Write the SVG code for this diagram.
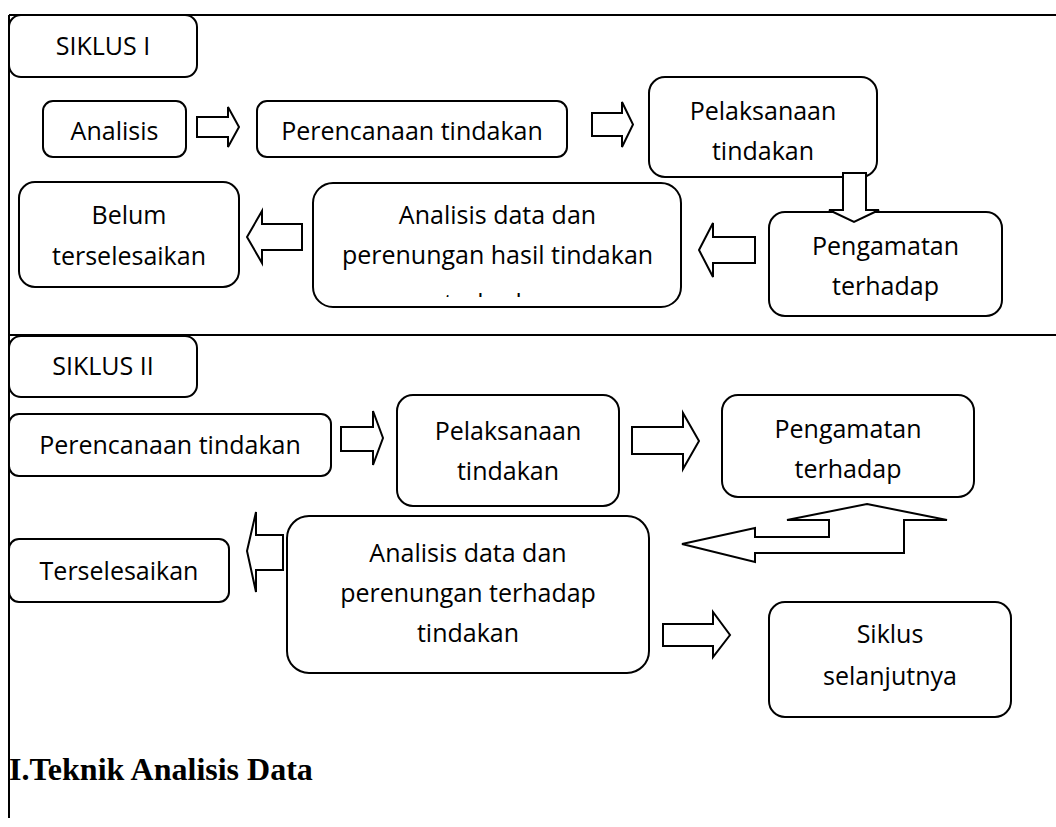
<svg xmlns="http://www.w3.org/2000/svg" width="1056" height="827" viewBox="0 0 1056 827">
<style>
.box{fill:#fff;stroke:#000;stroke-width:2}
.t{font-family:"Open Sans","Liberation Sans",sans-serif;font-size:25px;fill:#000;text-anchor:middle}
.arr{fill:#fff;stroke:#000;stroke-width:2;stroke-linejoin:miter}
.frame{fill:none;stroke:#000;stroke-width:2}
.h{font-family:"Liberation Serif","Times New Roman",serif;font-size:32px;font-weight:bold;fill:#000}
</style>
<defs>
<clipPath id="clipA"><rect x="313" y="183" width="368" height="114"/></clipPath>
</defs>
<rect width="1056" height="827" fill="#fff"/>
<g id="frame">
<path class="frame" d="M9,15 H1056 M9,335 H1056 M9,15 V818"/>
</g>
<g id="siklus1"><rect class="box" x="9" y="15" width="188" height="62" rx="12"/><text class="t" x="103" y="55">SIKLUS I</text></g>
<g id="analisis"><rect class="box" x="43" y="101" width="143" height="56" rx="10"/><text class="t" x="114.5" y="140">Analisis</text></g>
<g id="perencanaan1"><rect class="box" x="257" y="101" width="310" height="56" rx="10"/><text class="t" x="412" y="140">Perencanaan tindakan</text></g>
<g id="pelaksanaan1"><rect class="box" x="649" y="77" width="228" height="100" rx="16"/><text class="t" x="763" y="120">Pelaksanaan</text><text class="t" x="763" y="160">tindakan</text></g>
<g id="pengamatan1"><rect class="box" x="769" y="212" width="233" height="104" rx="16"/><text class="t" x="885.5" y="255">Pengamatan</text><text class="t" x="885.5" y="295">terhadap</text></g>
<g id="analisisData1"><rect class="box" x="313" y="183" width="368" height="124" rx="20"/><text class="t" x="497.5" y="224">Analisis data dan</text><text class="t" x="497.5" y="264">perenungan hasil tindakan</text><text class="t" x="497.5" y="312" clip-path="url(#clipA)">terhadap</text></g>
<g id="belum"><rect class="box" x="19" y="182" width="220" height="105" rx="16"/><text class="t" x="129" y="224">Belum</text><text class="t" x="129" y="265">terselesaikan</text></g>
<g id="siklus2"><rect class="box" x="9" y="336" width="188" height="61" rx="12"/><text class="t" x="103" y="375">SIKLUS II</text></g>
<g id="perencanaan2"><rect class="box" x="9" y="414" width="322" height="62" rx="10"/><text class="t" x="170" y="454">Perencanaan tindakan</text></g>
<g id="pelaksanaan2"><rect class="box" x="397" y="395" width="222" height="111" rx="16"/><text class="t" x="508" y="440">Pelaksanaan</text><text class="t" x="508" y="480">tindakan</text></g>
<g id="pengamatan2"><rect class="box" x="722" y="395" width="252" height="102" rx="16"/><text class="t" x="848" y="438">Pengamatan</text><text class="t" x="848" y="478">terhadap</text></g>
<g id="terselesaikan"><rect class="box" x="9" y="539" width="220" height="63" rx="10"/><text class="t" x="119" y="580">Terselesaikan</text></g>
<g id="analisisData2"><rect class="box" x="287" y="516" width="362" height="157" rx="22"/><text class="t" x="468" y="562">Analisis data dan</text><text class="t" x="468" y="602">perenungan terhadap</text><text class="t" x="468" y="642">tindakan</text></g>
<g id="siklusSelanjutnya"><rect class="box" x="769" y="602" width="242" height="115" rx="16"/><text class="t" x="890" y="643">Siklus</text><text class="t" x="890" y="685">selanjutnya</text></g>
<g id="connectors">
<polygon class="arr" points="197,117 228,117 228,107 239,127 228,147 228,137 197,137"/>
<polygon class="arr" points="592,113 622,113 622,102 633,124.5 622,147 622,136 592,136"/>
<polygon class="arr" points="843,173 866,173 866,210 879,210 854,222 829,210 843,210"/>
<polygon class="arr" points="755,237 755,263 713,263 713,277 699,250 713,223 713,237"/>
<polygon class="arr" points="302,224 302,250 262,250 262,263 247,237 262,211 262,224"/>
<polygon class="arr" points="341,427 373,427 373,411 383,438 373,465 373,451 341,451"/>
<polygon class="arr" points="632,427 683,427 683,413 699,441 683,469 683,454 632,454"/>
<polygon class="arr" points="867,504 947,520 904,520 904,553 755,553 755,562 682,544 755,528 755,537 829,537 829,520 787,520"/>
<polygon class="arr" points="283,535 283,570 256,570 256,592 247,551 256,512 256,535"/>
<polygon class="arr" points="663,624 713,624 713,612 730,635 713,657 713,646 663,646"/>
</g>
<g id="heading"><text class="h" x="9" y="780">I.Teknik Analisis Data</text></g>
</svg>
